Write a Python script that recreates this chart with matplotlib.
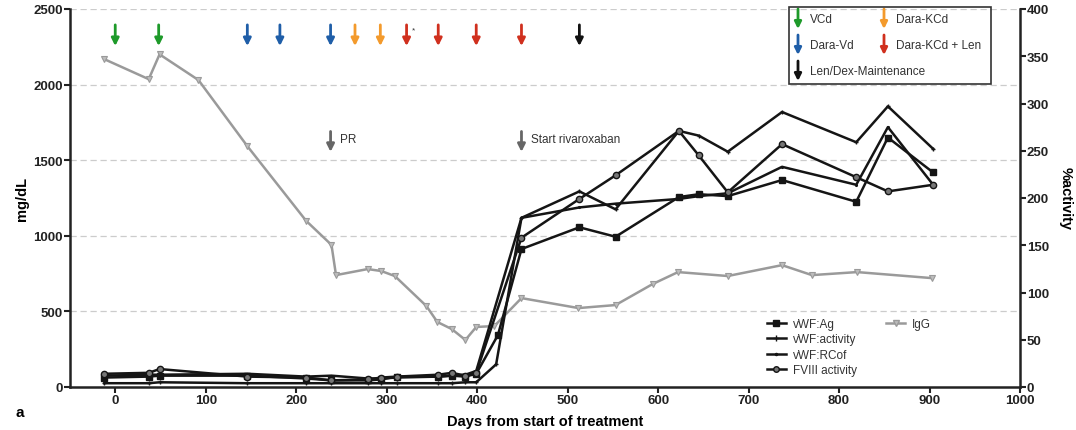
import matplotlib
matplotlib.use("Agg")
import matplotlib.pyplot as plt
from matplotlib.lines import Line2D
from matplotlib.patches import Rectangle

plt.rcParams["font.family"] = ["Liberation Sans", "DejaVu Sans"]

# ---------------- data ----------------
igg_days = [-12, 37, 49, 92, 146, 211, 239, 244, 279, 294, 309, 344, 356, 372, 387, 399, 419, 449, 512, 553, 594, 622, 677, 737, 770, 820, 903]
igg_vals = [2168, 2036, 2200, 2030, 1593, 1099, 940, 740, 780, 767, 734, 535, 430, 383, 311, 397, 403, 588, 522, 542, 681, 760, 734, 806, 740, 760, 720]

ag_days = [-12, 37, 49, 146, 211, 239, 279, 294, 311, 357, 372, 387, 399, 423, 449, 513, 553, 623, 645, 677, 737, 819, 854, 904]
ag_vals = [10, 11, 12, 12, 9, 7, 7, 8, 11, 11, 12, 11, 14, 55, 146, 169, 159, 201, 204, 202, 219, 196, 264, 227]

act_days = [-12, 37, 49, 146, 211, 239, 279, 294, 311, 357, 372, 387, 399, 421, 449, 513, 553, 623, 645, 677, 737, 819, 854, 904]
act_vals = [4, 4, 5, 4, 4, 4, 4, 4, 4, 4, 4, 5, 5, 24, 179, 207, 188, 271, 266, 249, 291, 259, 297, 252]

rcof_days = [-12, 37, 49, 146, 211, 239, 279, 294, 311, 357, 372, 387, 399, 449, 513, 553, 623, 645, 677, 737, 819, 854, 904]
rcof_vals = [12, 13, 13, 14, 11, 12, 9, 9, 10, 11, 12, 13, 17, 179, 190, 194, 199, 202, 205, 233, 214, 275, 214]

f8_days = [-12, 37, 49, 146, 211, 239, 279, 294, 311, 357, 372, 387, 399, 449, 513, 553, 623, 645, 677, 737, 819, 854, 904]
f8_vals = [14, 15, 19, 11, 10, 7, 8, 10, 11, 13, 15, 12, 15, 158, 199, 224, 271, 245, 206, 257, 222, 207, 214]

regimen_days = [0, 48, 146, 182, 238, 265, 293, 322, 357, 399, 449, 513]
regimen_kind = ["VCd", "VCd", "Dara-Vd", "Dara-Vd", "Dara-Vd", "Dara-KCd", "Dara-KCd",
                "Dara-KCd + Len", "Dara-KCd + Len", "Dara-KCd + Len", "Dara-KCd + Len",
                "Len/Dex-Maintenance"]
regimen_colors = {"VCd": "#1e9a2a", "Dara-Vd": "#1f5ea8", "Dara-KCd": "#f39a2c",
                  "Dara-KCd + Len": "#d0301e", "Len/Dex-Maintenance": "#111111"}

event_days = [238, 449]
event_labels = ["PR", "Start rivaroxaban"]

# ---------------- figure ----------------
W, H = 1076, 431
fig = plt.figure(figsize=(W / 100, H / 100), dpi=100)
L, R, T, B = 70, 1020, 10, 388
ax = fig.add_axes([L / W, (H - B) / H, (R - L) / W, (B - T) / H])
ax2 = ax.twinx()

ax.set_xlim(-50, 1000)
ax.set_ylim(0, 2500)
ax2.set_ylim(0, 400)

for a in (ax, ax2):
    a.spines["top"].set_visible(False)
    for s in ("left", "right", "bottom"):
        a.spines[s].set_linewidth(1.8)
        a.spines[s].set_color("#222222")
ax.spines["right"].set_visible(False)
ax2.spines["left"].set_visible(False)
ax2.spines["bottom"].set_visible(False)

ax.set_yticks(range(0, 2501, 500))
ax.set_xticks(range(0, 1001, 100))
ax2.set_yticks(range(0, 401, 50))
for a in (ax, ax2):
    a.tick_params(width=1.5, length=4, labelsize=9.5, pad=1, colors="#222222")
    for lab in a.get_xticklabels() + a.get_yticklabels():
        lab.set_fontweight("bold")

for yv in range(500, 2501, 500):
    ax.axhline(yv, color="#cccccc", lw=0.9, ls=(0, (5, 3)), zorder=0)

# IgG
ax.plot(igg_days, igg_vals, color="#9a9a9a", lw=1.8, marker="v", ms=4,
        mfc="#bdbdbd", mec="#9a9a9a", mew=0.8, zorder=2)

# Activity series
kw = dict(color="#151515", lw=1.8, zorder=3)
ax2.plot(ag_days, ag_vals, marker="s", ms=4.5, **kw)
ax2.plot(act_days, act_vals, marker="+", ms=3, mew=1.0, **kw)
ax2.plot(rcof_days, rcof_vals, marker=".", ms=2.5, **kw)
ax2.plot(f8_days, f8_vals, marker="o", ms=4.5, mfc="#777777", mec="#151515", mew=1, **kw)

ax.set_ylabel("mg/dL", fontsize=10.5, fontweight="bold", labelpad=3)
ax2.set_ylabel("%activity", fontsize=10.5, fontweight="bold", rotation=270, labelpad=17)
ax.set_xlabel("Days from start of treatment", fontsize=10.5, fontweight="bold", labelpad=6)
fig.text(15 / W, 1 - 413 / H, "a", fontsize=11, fontweight="bold", va="center")

# regimen arrows
def px2ax(px, py):
    return (px - L) / (R - L), (B - py) / (B - T)

for d, k in zip(regimen_days, regimen_kind):
    ax.annotate("", xy=(d, 2255), xytext=(d, 2395),
                arrowprops=dict(arrowstyle="-|>", color=regimen_colors[k], lw=2,
                                mutation_scale=11, shrinkA=0, shrinkB=0))
ax.text(322 + 6, 2360, "*", fontsize=6, color="#333333", va="center")

for d, lab in zip(event_days, event_labels):
    ax.annotate("", xy=(d, 1555), xytext=(d, 1690),
                arrowprops=dict(arrowstyle="-|>", color="#666666", lw=2,
                                mutation_scale=11, shrinkA=0, shrinkB=0))
    ax.text(d + 10, 1640, lab, fontsize=8.5, color="#333333", va="center")

# regimen legend box
x0, y0 = px2ax(789, 85)
x1, y1 = px2ax(991, 8)
ax.add_patch(Rectangle((x0, y0), x1 - x0, y1 - y0, transform=ax.transAxes,
                       fill=False, lw=1.2, ec="#333333", clip_on=False, zorder=5))
entries = [("VCd", 798, 20), ("Dara-KCd", 884, 20), ("Dara-Vd", 798, 46),
           ("Dara-KCd + Len", 884, 46), ("Len/Dex-Maintenance", 798, 72)]
for name, px, py in entries:
    xa, ya_top = px2ax(px, py - 10)
    _, ya_bot = px2ax(px, py + 10)
    ax.annotate("", xy=(xa, ya_bot), xytext=(xa, ya_top), xycoords="axes fraction",
                arrowprops=dict(arrowstyle="-|>", color=regimen_colors[name], lw=2,
                                mutation_scale=10, shrinkA=0, shrinkB=0),
                annotation_clip=False)
    tx, ty = px2ax(px + 12, py)
    ax.text(tx, ty, name, transform=ax.transAxes, fontsize=8.5, color="#333333", va="center")

# series legend
h_ag = Line2D([], [], color="#151515", lw=1.8, marker="s", ms=4)
h_act = Line2D([], [], color="#151515", lw=1.8, marker="+", ms=4)
h_rc = Line2D([], [], color="#151515", lw=1.8, marker=".", ms=3)
h_f8 = Line2D([], [], color="#151515", lw=1.8, marker="o", ms=4, mfc="#777777")
h_ig = Line2D([], [], color="#9a9a9a", lw=1.8, marker="v", ms=4, mfc="#bdbdbd")
blank = Line2D([], [], color="none")
leg = ax2.legend([h_ag, h_act, h_rc, h_f8, h_ig, blank, blank, blank],
                 ["vWF:Ag", "vWF:activity", "vWF:RCof", "FVIII activity", "IgG", "", "", ""],
                 ncol=2, frameon=False, fontsize=8.5, loc="upper left",
                 bbox_to_anchor=px2ax(762, 314), handlelength=1.6, handletextpad=0.6,
                 labelspacing=0.3, columnspacing=2.5, borderaxespad=0)
for t in leg.get_texts():
    t.set_color("#333333")

fig.savefig("out.png", dpi=100)
